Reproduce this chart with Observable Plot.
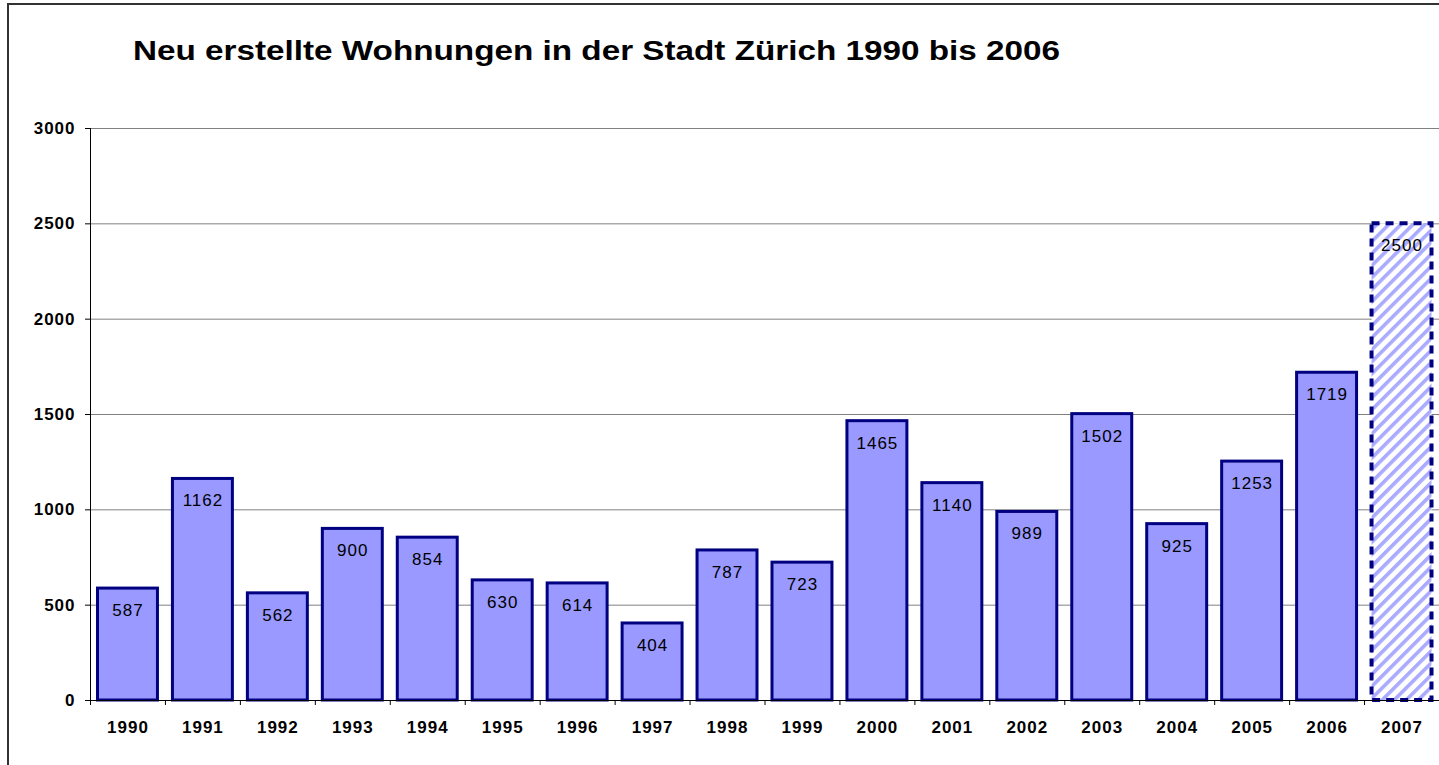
<!DOCTYPE html>
<html>
<head>
<meta charset="utf-8">
<script src="https://cdn.jsdelivr.net/npm/d3@7"></script>
<script src="https://cdn.jsdelivr.net/npm/@observablehq/plot@0.6"></script>
<style>
  html, body { margin: 0; padding: 0; background: #fff; overflow: hidden; }
  #wrap { position: relative; width: 1439px; height: 765px; overflow: hidden; font-family: Arial, "Liberation Sans", sans-serif; }
  #frame { position: absolute; left: 7px; top: 3px; width: 1500px; height: 900px; border: 2px solid #333; box-sizing: border-box; }
  #title { position: absolute; left: 133px; top: 35px; font-size: 28px; line-height: 32px; font-weight: bold; white-space: nowrap; color: #000; font-family: Arial, "Liberation Sans", sans-serif; transform-origin: 0 0; }
  #chart { position: absolute; left: 0; top: 0; }
</style>
</head>
<body>
<div id="wrap">
  <div id="frame"></div>
  <div id="title">Neu erstellte Wohnungen in der Stadt Zürich 1990 bis 2006</div>
  <div id="chart"></div>
</div>
<script>
const years = ["1990","1991","1992","1993","1994","1995","1996","1997","1998","1999","2000","2001","2002","2003","2004","2005","2006","2007"];
const values = [587,1162,562,900,854,630,614,404,787,723,1465,1140,989,1502,925,1253,1719,2500];
const planned = [false,false,false,false,false,false,false,false,false,false,false,false,false,false,false,false,false,true];
const yTicks = [0,500,1000,1500,2000,2500,3000];

const data = years.map((y, i) => ({year: y, value: values[i], planned: planned[i]}));
const actual = data.filter(d => !d.planned);
const future = data.filter(d => d.planned);

const W = 1439, H = 765;
const mL = 90, mR = 0, mT = 128, mB = 65;
const step = (W - mL - mR) / years.length;

const font = "Arial, 'Liberation Sans', sans-serif";

// the reference title is slightly wider than plain Arial: stretch horizontally to its width
(function () {
  const t = document.getElementById("title");
  const w = t.getBoundingClientRect().width;
  const target = 927;
  t.style.transform = "scaleX(" + (target / w) + ")";
})();

const chart = Plot.plot({
  width: W,
  height: H,
  marginLeft: mL,
  marginRight: mR,
  marginTop: mT,
  marginBottom: mB,
  style: {fontFamily: font, fontSize: "17px", fontWeight: "bold", background: "transparent", overflow: "visible"},
  x: {type: "band", domain: years, paddingInner: 0.2, paddingOuter: 0.1, align: 0.5, round: false},
  y: {domain: [0, 3000]},
  marks: [
    Plot.ruleY(yTicks, {stroke: "#808080", strokeWidth: 1, strokeOpacity: 1}),
    Plot.barY(actual, {x: "year", y: "value", fill: "#9999FF", stroke: "#000080", strokeWidth: 3}),
    Plot.barY(future, {x: "year", y: "value", fill: "url(#hatch)", stroke: "#000080", strokeWidth: 4, strokeDasharray: "8,6"}),
    Plot.text(data, {x: "year", y: "value", text: d => String(d.value), dy: 22, fontSize: 17, fontWeight: "normal", fill: "#000", fontFamily: font}),
    Plot.axisY({ticks: yTicks, tickSize: 5, tickPadding: 10, tickFormat: d => String(d), fontSize: 17, fontWeight: "bold", label: null, stroke: "#000", fill: "#000"}),
    Plot.axisX({tickSize: 0, tickPadding: 20, fontSize: 17, fontWeight: "bold", label: null, fill: "#000"}),
    Plot.axisX({tickSize: 5, tickFormat: () => "", dx: -step / 2, label: null, stroke: "#000"}),
    Plot.ruleY([0], {stroke: "#000", strokeWidth: 1}),
    Plot.ruleX([0], {x: () => years[0], dx: -step / 2, y1: 0, y2: 3000, stroke: "#000"})
  ]
});

// slight horizontal widening of digits, as in the reference rendering
chart.querySelectorAll("text").forEach(t => t.setAttribute("letter-spacing", "1"));

// hatch pattern definition for the planned bar
const ns = "http://www.w3.org/2000/svg";
const defs = document.createElementNS(ns, "defs");
const pat = document.createElementNS(ns, "pattern");
pat.setAttribute("id", "hatch");
pat.setAttribute("patternUnits", "userSpaceOnUse");
pat.setAttribute("width", "8.5");
pat.setAttribute("height", "8.5");
pat.setAttribute("patternTransform", "rotate(45)");
const bg = document.createElementNS(ns, "rect");
bg.setAttribute("width", "8.5"); bg.setAttribute("height", "8.5"); bg.setAttribute("fill", "#ffffff");
const st = document.createElementNS(ns, "rect");
st.setAttribute("width", "3.6"); st.setAttribute("height", "8.5"); st.setAttribute("fill", "#AAAAFF");
pat.appendChild(bg); pat.appendChild(st); defs.appendChild(pat);
chart.insertBefore(defs, chart.firstChild);

document.getElementById("chart").appendChild(chart);
</script>
</body>
</html>
